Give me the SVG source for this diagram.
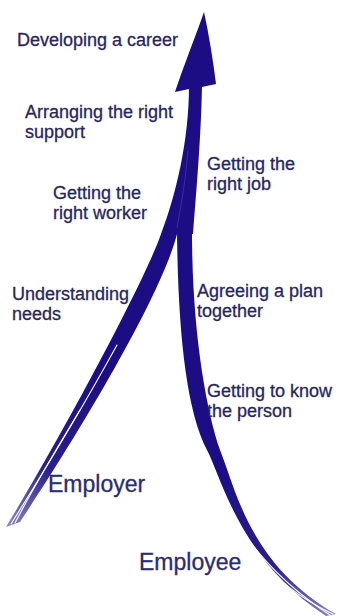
<svg xmlns="http://www.w3.org/2000/svg" width="339" height="616" viewBox="0 0 339 616">
  <defs>
    <style>
      .lbl { font-family: "Liberation Sans", Arial, sans-serif; font-size: 18px; fill: #26265f; stroke: #26265f; stroke-width: 0.3; }
      .big { font-family: "Liberation Sans", Arial, sans-serif; font-size: 23px; fill: #2a2c74; stroke: #2a2c74; stroke-width: 0.3; }
      .ink { fill: #1c0d84; }
      .split { fill: none; stroke: #ffffff; stroke-width: 1.1; stroke-linecap: round; }
      .seam { fill: none; stroke: #5a50b8; stroke-width: 0.8; opacity: 0.6; }
    </style>
    <linearGradient id="tailLeft" gradientUnits="userSpaceOnUse" x1="110" y1="380" x2="5" y2="527">
      <stop offset="0" stop-color="#1c0d84"/>
      <stop offset="0.6" stop-color="#2a1f8e"/>
      <stop offset="1" stop-color="#8a88c4"/>
    </linearGradient>
    <linearGradient id="tailRight" gradientUnits="userSpaceOnUse" x1="215" y1="470" x2="336" y2="614">
      <stop offset="0" stop-color="#1c0d84"/>
      <stop offset="0.6" stop-color="#2a1f8e"/>
      <stop offset="1" stop-color="#8a88c4"/>
    </linearGradient>
  </defs>

  <rect width="339" height="616" fill="#ffffff"/>

  <!-- the two strands join into one shaft that ends in the arrowhead -->
  <g id="connectors">
    <!-- employer strand -->
    <path fill="url(#tailLeft)" d="M161,234 C145,280 68,425 6,527 L20,522 C78,435 165,290 178,230 Z"/>
    <!-- employee strand -->
    <path fill="url(#tailRight)" d="M177,232 C178,330 186,410 207,450 C222,479 240,560 326,616 L336,614 C250,565 236,490 220,450 C206,410 192,330 192,232 Z"/>
    <!-- shared shaft -->
    <path class="ink" d="M189,86 L202,85 C201,140 196,195 193,234 L161,234 C176,195 189,140 189,86 Z"/>
    <!-- arrowhead -->
    <path class="ink" d="M204,12 C209,35 213,60 216,84 L202,87 L189,89 L175,92 C184,65 196,35 204,12 Z"/>

    <!-- brush texture: seam and split lines in the tails -->
    <path class="seam" d="M188,150 C185,185 181,205 177,228"/>
    <path class="split" d="M117,345 C95,385 70,430 11,524"/>
    <path class="split" d="M80,410 C62,440 40,475 15,523"/>
    <path class="split" d="M202,455 C217,490 245,560 330,615"/>
    <path class="split" d="M227,505 C242,540 270,585 333,614"/>
  </g>

  <g id="developing-career"><text class="lbl" x="17" y="46">Developing a career</text></g>
  <g id="arranging-support">
    <text class="lbl" x="25" y="118">Arranging the right</text>
    <text class="lbl" x="25" y="138">support</text>
  </g>
  <g id="right-worker">
    <text class="lbl" x="53" y="199">Getting the</text>
    <text class="lbl" x="53" y="219">right worker</text>
  </g>
  <g id="right-job">
    <text class="lbl" x="207" y="170">Getting the</text>
    <text class="lbl" x="207" y="190">right job</text>
  </g>
  <g id="understanding-needs">
    <text class="lbl" x="12" y="300">Understanding</text>
    <text class="lbl" x="12" y="320">needs</text>
  </g>
  <g id="agreeing-plan">
    <text class="lbl" x="197" y="297">Agreeing a plan</text>
    <text class="lbl" x="197" y="317">together</text>
  </g>
  <g id="know-person">
    <text class="lbl" x="207" y="397">Getting to know</text>
    <text class="lbl" x="207" y="417">the person</text>
  </g>
  <g id="employer"><text class="big" x="48" y="492">Employer</text></g>
  <g id="employee"><text class="big" x="139" y="570">Employee</text></g>
</svg>
